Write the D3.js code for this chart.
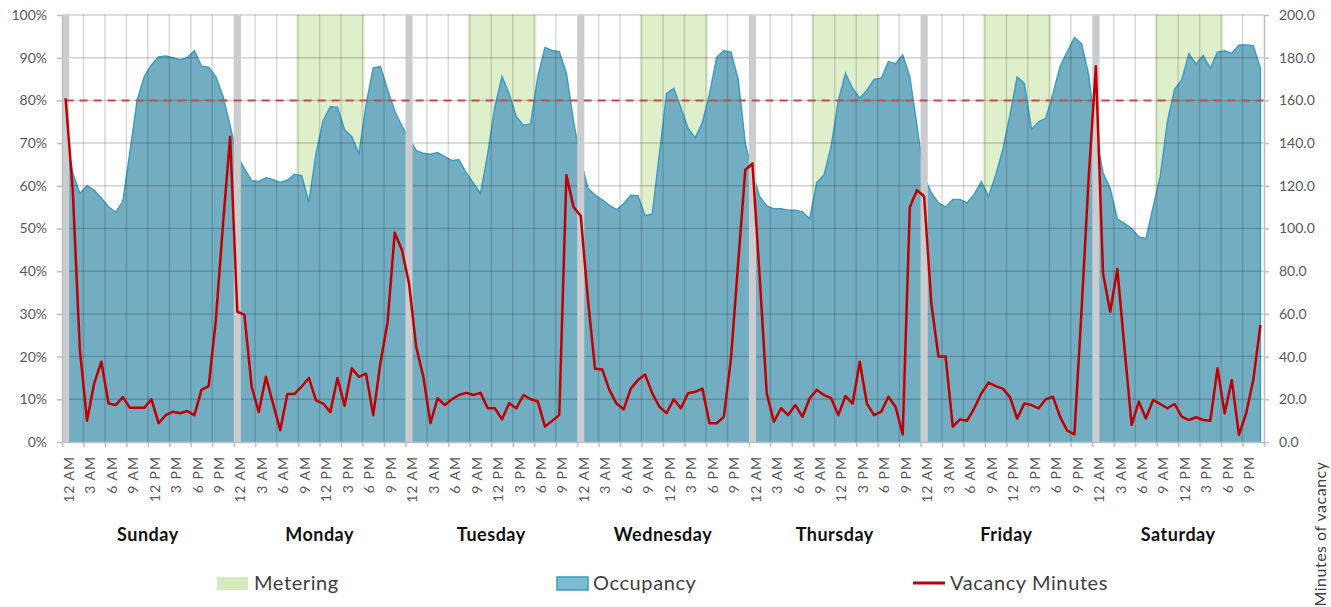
<!DOCTYPE html>
<html>
<head>
<meta charset="utf-8">
<script src="https://cdn.jsdelivr.net/npm/d3@7/dist/d3.min.js"></script>
<style>
  body { margin: 0; background: #fff; }
  svg text { font-family: Lato, "Open Sans", sans-serif; }
</style>
</head>
<body>
<div id="chart"></div>
<script>
// days and hour labels
var days = ['Sunday', 'Monday', 'Tuesday', 'Wednesday', 'Thursday', 'Friday', 'Saturday']
var hourLabels = ['12 AM', '3 AM', '6 AM', '9 AM', '12 PM', '3 PM', '6 PM', '9 PM']

// occupancy in %, one value per hour, Sunday 12 AM .. Saturday 11 PM
var occupancy = [
  72, 63, 58.2, 60, 59, 57.1, 55.1, 53.8, 56.3, 68, 80, 85.6, 88.3, 90.2, 90.4, 90, 89.5, 90, 91.6, 88, 87.8, 85.5, 81, 74,
  67, 64, 61.2, 61, 61.9, 61.4, 60.8, 61.3, 62.7, 62.4, 56.1, 67.5, 75.3, 78.5, 78.4, 73.1, 71.5, 67.5, 79, 87.6, 87.9, 82.5, 77.5, 74,
  71, 68.3, 67.6, 67.4, 67.8, 66.8, 65.9, 66.1, 63, 60.6, 58.2, 67.5, 78.5, 85.6, 81.5, 76.2, 74.2, 74.5, 85.5, 92.4, 91.7, 91.4, 86.3, 75,
  66, 59.5, 57.8, 56.7, 55.4, 54.4, 55.8, 57.8, 57.7, 53, 53.4, 67.5, 81.6, 82.8, 78.3, 73.5, 71.2, 74.8, 81.5, 90.1, 91.6, 91.3, 85, 70,
  63, 57.5, 55.3, 54.6, 54.6, 54.3, 54.3, 53.9, 52.3, 60.8, 62.5, 69.2, 79.9, 86.3, 82.8, 80.5, 82.4, 84.9, 85.2, 89.1, 88.6, 90.6, 85.5, 74,
  62, 58.3, 56, 55, 56.8, 56.8, 56, 58, 61, 57.5, 62.5, 68.5, 76.6, 85.5, 84, 73.2, 75, 75.8, 81.5, 88, 91.4, 94.7, 93.3, 86,
  72, 63, 59.4, 52.2, 51.2, 50, 48, 47.6, 55, 62.2, 75, 82.6, 84.8, 90.9, 88.5, 90.5, 87.5, 91.3, 91.6, 91, 93, 93, 92.8, 87.5
]

// vacancy minutes per hour (right axis)
var vacancy = [
  161, 118, 43, 10, 27.5, 37.6, 18, 17.3, 21, 16, 16, 16, 20, 8.8, 12.6, 14.2, 13.5, 14.5, 12.6, 24.4, 26.2, 57, 102, 143,
  61, 59.5, 26, 14, 30.5, 18, 5.5, 22.5, 22.5, 26, 30, 19.5, 18, 14, 30, 17, 34.5, 30.5, 32, 12.5, 37, 56, 98, 90,
  74.3, 44.6, 30.6, 8.8, 20.5, 17.3, 20, 22, 23, 22, 23, 15.8, 15.8, 10.6, 18.2, 15.8, 22, 20, 19, 7.2, 9.9, 12.6, 125, 110,
  106, 67, 34.3, 34, 24.4, 18, 15.3, 25, 29, 31.6, 22.8, 16.5, 13.5, 20, 15.8, 22.8, 23.5, 25, 8.8, 8.8, 11.8, 39.2, 83.7, 127.4,
  130.5, 78, 22.8, 9.5, 15.8, 12.6, 17.3, 11.8, 20.5, 24.4, 22, 20.5, 12.6, 21.5, 18, 37.6, 18, 12.6, 14.2, 21.2, 16.5, 3.5, 110, 118,
  115, 65, 40, 40, 7.2, 10.6, 10, 15.8, 22.8, 27.8, 26.2, 25, 21, 11, 18, 17.3, 15.8, 20, 21.2, 11.8, 5.3, 3.6, 61.8, 124,
  176, 79, 61, 81, 44, 8, 18.9, 11, 19.7, 17.8, 15.8, 17.8, 11.9, 10.3, 11.6, 10.3, 10, 34.5, 13.4, 29, 3.3, 13.4, 29, 54.8
]

// metering window (hours of the day) and the days it applies to
var meteringDays = ['Monday', 'Tuesday', 'Wednesday', 'Thursday', 'Friday', 'Saturday']
var meteringHours = [8.25, 17.8]

var targetOccupancy = 80
var pctTicks = d3.range(0, 101, 10)
var minuteTicks = d3.range(0, 201, 20)

var width = 1331, height = 607
var plotLeft = 62, plotRight = 1264, plotTop = 15, plotBottom = 442
var nHours = occupancy.length

var x = d3.scaleLinear().domain([-0.5, nHours - 0.5]).range([plotLeft, plotRight])
var y = d3.scaleLinear().domain([0, 100]).range([plotBottom, plotTop])
var y2 = d3.scaleLinear().domain([0, 200]).range([plotBottom, plotTop])

var svg = d3.select('#chart').append('svg')
  .attr('width', width)
  .attr('height', height)

// metering bands
svg.append('g').selectAll('rect')
  .data(meteringDays)
  .enter().append('rect')
  .attr('x', function (d) { return x(days.indexOf(d) * 24 + meteringHours[0]) })
  .attr('width', function (d) { return x(meteringHours[1]) - x(meteringHours[0]) })
  .attr('y', plotTop)
  .attr('height', plotBottom - plotTop)
  .attr('fill', '#dfefcb')

// occupancy area
var area = d3.area()
  .x(function (d, i) { return x(i) })
  .y0(y(0))
  .y1(function (d) { return y(d) })

svg.append('path')
  .datum(occupancy)
  .attr('d', area)
  .attr('fill', '#73adc2')

var edge = occupancy.map(function (d, i) { return [i, d] })
edge.push([nHours - 1, 0])
svg.append('path')
  .datum(edge)
  .attr('d', d3.line().x(function (d) { return x(d[0]) }).y(function (d) { return y(d[1]) }))
  .attr('fill', 'none')
  .attr('stroke', '#3d9dc2')
  .attr('stroke-width', 1.5)

// gridlines on top of the area, semi transparent
var grid = svg.append('g')
grid.selectAll('.hgrid')
  .data(pctTicks.slice(1))
  .enter().append('line')
  .attr('class', 'hgrid')
  .attr('x1', plotLeft).attr('x2', plotRight)
  .attr('y1', function (d) { return y(d) }).attr('y2', function (d) { return y(d) })
  .attr('stroke', '#000')
  .attr('stroke-opacity', 0.18)
  .attr('stroke-width', 1.5)

var vticks = d3.range(0, nHours, 3).filter(function (d) { return d % 24 != 0 })
grid.selectAll('.vgrid')
  .data(vticks)
  .enter().append('line')
  .attr('class', 'vgrid')
  .attr('x1', function (d) { return x(d - 0.5) }).attr('x2', function (d) { return x(d - 0.5) })
  .attr('y1', plotTop).attr('y2', plotBottom)
  .attr('stroke', '#000')
  .attr('stroke-opacity', 0.15)
  .attr('stroke-width', 1.5)

// grey day separators at midnight
svg.append('g').selectAll('rect')
  .data(days)
  .enter().append('rect')
  .attr('x', function (d, i) { return x(i * 24 - 0.5) })
  .attr('width', x(0.5) - x(-0.5))
  .attr('y', plotTop)
  .attr('height', plotBottom - plotTop)
  .attr('fill', '#cbccd0')

// 80% target line
svg.append('line')
  .attr('x1', x(0)).attr('x2', plotRight)
  .attr('y1', y(targetOccupancy)).attr('y2', y(targetOccupancy))
  .attr('stroke', '#c0504d')
  .attr('stroke-width', 2)
  .attr('stroke-dasharray', '8,6')

// vacancy minutes
var vline = d3.line()
  .x(function (d, i) { return x(i) })
  .y(function (d) { return y2(d) })

svg.append('path')
  .datum(vacancy)
  .attr('d', vline)
  .attr('fill', 'none')
  .attr('stroke', '#c00000')
  .attr('stroke-width', 2.5)
  .attr('stroke-linejoin', 'round')

// axes
var yAxis = svg.append('g')
  .attr('transform', 'translate(' + plotLeft + ',0)')
  .call(d3.axisLeft(y).tickValues(pctTicks).tickFormat(function (d) { return d + '%' }).tickSize(5).tickSizeOuter(0).tickPadding(10))

var yAxis2 = svg.append('g')
  .attr('transform', 'translate(' + plotRight + ',0)')
  .call(d3.axisRight(y2).tickValues(minuteTicks).tickFormat(d3.format('.1f')).tickSize(5).tickSizeOuter(0).tickPadding(10))

var xTicks = svg.append('g')
  .attr('transform', 'translate(0,' + plotBottom + ')')
  .call(d3.axisBottom(x).tickValues(d3.range(0, nHours + 1, 3).map(function (d) { return d - 0.5 })).tickFormat('').tickSize(5).tickSizeOuter(0))

var xLabels = svg.append('g')
  .attr('transform', 'translate(0,' + plotBottom + ')')
  .call(d3.axisBottom(x).tickValues(d3.range(0, nHours, 3)).tickFormat(function (d) { return hourLabels[(d % 24) / 3] }).tickSize(0))

xLabels.select('.domain').remove()
xLabels.selectAll('text')
  .attr('transform', 'rotate(-90)')
  .attr('x', -14)
  .attr('y', 0)
  .attr('dy', '0.55em')
  .style('text-anchor', 'end')

svg.selectAll('.domain').attr('stroke', '#bfbfbf').attr('stroke-width', 1.5)
svg.selectAll('.tick line').attr('stroke', '#bfbfbf').attr('stroke-width', 1.5)
svg.selectAll('.tick text').attr('fill', '#595959').style('font-size', '14px')
xLabels.selectAll('text').style('font-size', '14px').style('letter-spacing', '1px')

// day names
svg.append('g').selectAll('text')
  .data(days)
  .enter().append('text')
  .attr('x', function (d, i) { return x(i * 24 + 11.5) })
  .attr('y', 541)
  .attr('text-anchor', 'middle')
  .style('font-size', '18px')
  .style('font-weight', 'bold')
  .style('letter-spacing', '0.5px')
  .attr('fill', '#111')
  .text(function (d) { return d })

// right axis title
svg.append('text')
  .attr('transform', 'translate(1326,534) rotate(-90)')
  .attr('text-anchor', 'middle')
  .style('font-size', '16px')
  .style('letter-spacing', '0.5px')
  .attr('fill', '#404040')
  .text('Minutes of vacancy')

// legend
var legend = svg.append('g')
legend.append('rect').attr('x', 217).attr('y', 577).attr('width', 31).attr('height', 13).attr('fill', '#d7eabd')
legend.append('text').attr('x', 254).attr('y', 590).style('font-size', '20px').style('letter-spacing', '0.6px').attr('fill', '#404040').text('Metering')
legend.append('rect').attr('x', 557).attr('y', 577).attr('width', 31).attr('height', 13).attr('fill', '#7fbcd2').attr('stroke', '#3d9dc2').attr('stroke-width', 1.5)
legend.append('text').attr('x', 593).attr('y', 590).style('font-size', '20px').style('letter-spacing', '0.6px').attr('fill', '#404040').text('Occupancy')
legend.append('line').attr('x1', 913).attr('x2', 945).attr('y1', 583).attr('y2', 583).attr('stroke', '#c00000').attr('stroke-width', 3)
legend.append('text').attr('x', 950).attr('y', 590).style('font-size', '20px').style('letter-spacing', '0.6px').attr('fill', '#404040').text('Vacancy Minutes')
</script>
</body>
</html>
